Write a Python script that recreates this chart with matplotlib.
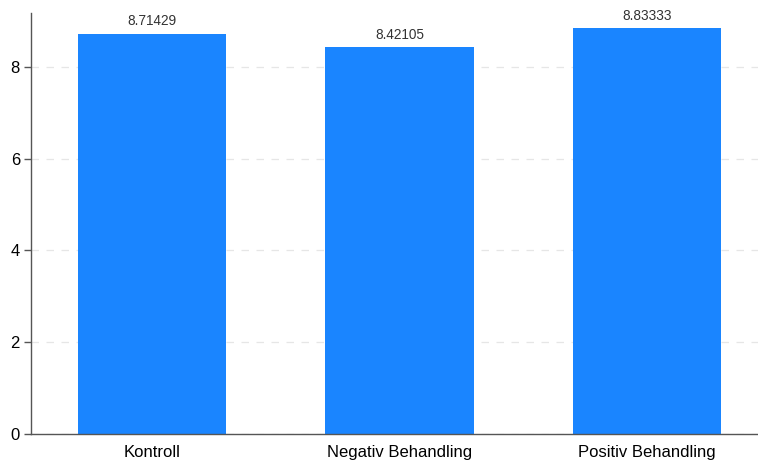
import matplotlib
matplotlib.use("Agg")
import matplotlib.pyplot as plt

categories = ["Kontroll", "Negativ Behandling", "Positiv Behandling"]
values = [8.71429, 8.42105, 8.83333]
value_labels = ["8.71429", "8.42105", "8.83333"]
yticks = [0, 2, 4, 6, 8]

plt.rcParams['font.family'] = ['Liberation Sans', 'DejaVu Sans']

fig = plt.figure(figsize=(7.58, 4.61), dpi=100)
ax = fig.add_axes([31/758, 27/461, 727/758, 421/461])

x = list(range(len(categories)))
bars = ax.bar(x, values, width=0.6, color="#1a85ff", zorder=2)
for xi, v, lab in zip(x, values, value_labels):
    ax.annotate(lab, (xi, v), xytext=(0, 4), textcoords="offset points",
                ha="center", va="bottom", fontsize=9.8, color="#333333")

ax.set_xlim(-0.49, 2.45)
ax.set_ylim(0, 9.17)
ax.set_yticks(yticks)
ax.set_yticklabels([str(t) for t in yticks], fontsize=12)
ax.set_xticks(x)
ax.set_xticklabels(categories, fontsize=12)
ax.tick_params(axis="x", length=0, pad=8)
ax.tick_params(axis="y", length=5, width=1, color="#555555", pad=3)
ax.grid(axis="y", linestyle=(0, (6, 6)), color="#e6e6e6", linewidth=0.9, zorder=0)
for s in ["top", "right"]:
    ax.spines[s].set_visible(False)
for s in ["left", "bottom"]:
    ax.spines[s].set_color("#555555")
    ax.spines[s].set_linewidth(1.0)

fig.savefig("out.png", dpi=100)
